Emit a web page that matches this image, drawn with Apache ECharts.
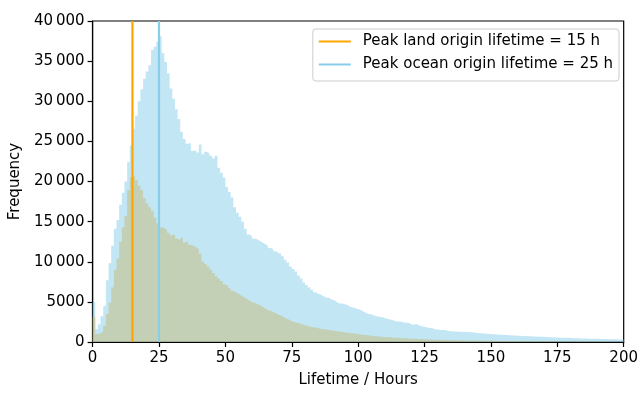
<!DOCTYPE html>
<html>
<head>
<meta charset="utf-8">
<script src="https://cdn.jsdelivr.net/npm/echarts@6/dist/echarts.min.js"></script>
<style>
html,body{margin:0;padding:0;background:#fff;}
#chart{width:641px;height:393px;}
</style>
</head>
<body>
<div id="chart"></div>
<script>
// Histogram bins: 1-hour wide, left edges 0..199
const binStart = 0;
const binWidth = 1;

// Ocean-origin lifetime counts per bin
const oceanCounts = [
  5000,1600,2200,3200,4500,7700,9800,12000,14100,15200,
  17100,18600,20000,22400,24500,26600,28200,30000,31500,32800,
  33700,34500,36400,36800,37400,38100,36000,34900,33500,31600,
  30300,29000,27800,26200,25300,24700,24800,23800,23900,23600,
  24600,23400,23700,23500,23200,22900,23200,21700,21100,20500,
  19300,18700,18000,16800,16100,15600,15000,14100,13400,13200,
  12900,12800,12600,12400,12200,12000,11700,11600,11300,11100,
  11000,10700,10250,9900,9400,9100,8800,8300,7900,7400,
  7100,6800,6500,6200,6000,5900,5700,5500,5500,5300,
  5200,5000,4800,4800,4700,4600,4400,4300,4200,4100,
  4000,3800,3600,3500,3450,3300,3200,3150,3100,3000,
  2900,2800,2750,2600,2550,2550,2450,2400,2400,2200,
  2150,2250,2050,1950,1900,1800,1750,1700,1600,1550,
  1500,1480,1450,1380,1340,1310,1300,1290,1270,1260,
  1250,1230,1200,1150,1120,1080,1060,1050,1000,990,
  960,940,920,900,880,870,850,820,800,790,
  770,750,740,730,720,700,680,660,650,640,
  620,600,580,570,560,550,540,530,520,500,
  480,470,460,450,440,430,420,410,400,390,
  380,370,360,350,340,335,330,320,310,300
];

// Land-origin lifetime counts per bin
const landCounts = [
  3100,1000,1100,1300,2000,3500,4900,6800,9000,10400,
  12500,14300,15700,18900,20500,20700,20200,19500,18900,17900,
  17300,16800,16300,15500,14800,14300,14200,14000,13600,13300,
  13400,12900,12700,13000,12400,12600,12100,12000,11800,11600,
  11000,10000,9700,9400,9000,8600,8200,7900,7600,7200,
  7000,6700,6400,6200,6000,5800,5600,5400,5200,5000,
  4900,4700,4600,4400,4200,4000,3900,3700,3600,3400,
  3300,3100,2900,2800,2600,2500,2400,2300,2200,2100,
  2000,1900,1850,1800,1700,1650,1600,1550,1500,1450,
  1400,1350,1300,1250,1200,1150,1100,1080,1050,1000,
  950,900,870,830,790,750,720,690,660,630,
  600,580,560,540,520,500,480,460,440,420,
  400,390,370,360,340,330,310,300,290,280,
  270,260,250,240,230,220,210,205,200,195,
  190,185,180,175,170,165,160,156,152,148,
  144,140,136,132,128,124,120,117,114,111,
  108,105,102,99,96,93,90,88,86,84,
  82,80,78,76,74,72,70,68,66,64,
  62,60,58,56,55,54,53,52,51,50,
  49,48,47,46,45,44,43,42,41,40
];

// Peak markers (hours)
const peakLand = 15;
const peakOcean = 25;
const landLabel = 'Peak land origin lifetime = 15 h';
const oceanLabel = 'Peak ocean origin lifetime = 25 h';

// Axis ticks
const xTicks = [0,25,50,75,100,125,150,175,200];
const xTickLabels = ['0','25','50','75','100','125','150','175','200'];
const yTicks = [0,5000,10000,15000,20000,25000,30000,35000,40000];
const yTickLabels = ['0','5000','10\u2009000','15\u2009000','20\u2009000','25\u2009000','30\u2009000','35\u2009000','40\u2009000'];

const xName = 'Lifetime / Hours';
const yName = 'Frequency';

// Build step-outline points (left edge -> value), closing at final right edge
function stepPoints(counts) {
  const pts = counts.map((v, i) => [binStart + i * binWidth, v]);
  pts.push([binStart + counts.length * binWidth, counts[counts.length - 1]]);
  return pts;
}

const FONT = 'DejaVu Sans';
const FS = 15;

const chart = echarts.init(document.getElementById('chart'), null, {renderer: 'canvas'});
chart.setOption({
  animation: false,
  backgroundColor: '#ffffff',
  grid: {
    left: 92, right: 16, top: 21, bottom: 46,
    show: true, borderColor: '#000', borderWidth: 1.2, backgroundColor: 'transparent'
  },
  xAxis: {
    type: 'value',
    min: xTicks[0], max: xTicks[xTicks.length - 1], interval: 25,
    name: xName, nameLocation: 'middle', nameGap: 31,
    nameTextStyle: {fontFamily: FONT, fontSize: FS, color: '#000'},
    axisLine: {show: true, lineStyle: {color: '#000', width: 1.2}},
    axisTick: {show: true, inside: false, length: 5, lineStyle: {color: '#000', width: 1.2}},
    axisLabel: {
      margin: 9, fontFamily: FONT, fontSize: FS, color: '#000',
      formatter: v => { const k = xTicks.indexOf(v); return k >= 0 ? xTickLabels[k] : ''; }
    },
    splitLine: {show: false}
  },
  yAxis: {
    type: 'value',
    min: yTicks[0], max: yTicks[yTicks.length - 1], interval: 5000,
    name: yName, nameLocation: 'middle', nameGap: 62, nameRotate: 90,
    nameTextStyle: {fontFamily: FONT, fontSize: FS, color: '#000'},
    axisLine: {show: true, lineStyle: {color: '#000', width: 1.2}},
    axisTick: {show: true, inside: false, length: 5, lineStyle: {color: '#000', width: 1.2}},
    axisLabel: {
      margin: 8, fontFamily: FONT, fontSize: FS, color: '#000',
      formatter: v => { const k = yTicks.indexOf(v); return k >= 0 ? yTickLabels[k] : ''; }
    },
    splitLine: {show: false}
  },
  legend: {
    data: [landLabel, oceanLabel],
    orient: 'vertical', right: 22, top: 29,
    itemWidth: 32, itemHeight: 14, itemGap: 8,
    padding: [5, 6, 9, 5],
    backgroundColor: 'rgba(255,255,255,0.8)',
    borderColor: '#cccccc', borderWidth: 1, borderRadius: 3,
    itemStyle: {opacity: 0},
    textStyle: {fontFamily: FONT, fontSize: FS, color: '#000', padding: [0, 0, 0, 7]}
  },
  series: [
    {
      name: 'Land origin', type: 'line', step: 'end', symbol: 'none',
      data: stepPoints(landCounts),
      lineStyle: {width: 0, opacity: 0},
      areaStyle: {color: '#FFA500', opacity: 0.5},
      z: 1, silent: true
    },
    {
      name: 'Ocean origin', type: 'line', step: 'end', symbol: 'none',
      data: stepPoints(oceanCounts),
      lineStyle: {width: 0, opacity: 0},
      areaStyle: {color: '#87CEEB', opacity: 0.5},
      z: 2, silent: true
    },
    {
      name: landLabel, type: 'line', symbol: 'none',
      data: [[peakLand, yTicks[0]], [peakLand, yTicks[yTicks.length - 1]]],
      lineStyle: {color: '#FFA500', width: 2.2},
      itemStyle: {color: '#FFA500'},
      z: 5
    },
    {
      name: oceanLabel, type: 'line', symbol: 'none',
      data: [[peakOcean, yTicks[0]], [peakOcean, yTicks[yTicks.length - 1]]],
      lineStyle: {color: '#87CEEB', width: 2.2},
      itemStyle: {color: '#87CEEB'},
      z: 5
    }
  ]
});
</script>
</body>
</html>
